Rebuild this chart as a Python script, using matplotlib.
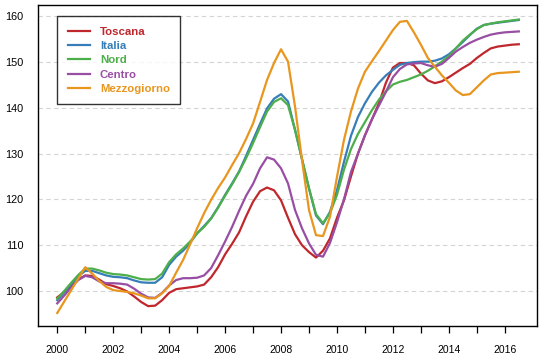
import numpy as np
import matplotlib
matplotlib.use("Agg")
import matplotlib.pyplot as plt

years = np.arange(2000.0, 2016.51, 0.25)

toscana = [98.6, 99.8, 101.0, 102.5, 103.4, 103.3, 102.5, 101.5,
           101.1, 100.6, 99.9, 98.8, 97.6, 96.7, 96.8, 98.0,
           99.6, 100.4, 100.6, 100.8, 101.0, 101.4, 103.0, 105.2,
           108.0, 110.3, 112.8, 116.3, 119.5, 121.8, 122.6, 122.0,
           119.8, 116.0, 112.4, 110.0, 108.5, 107.3, 108.8, 111.5,
           116.0, 119.8, 125.0, 130.0, 134.0, 137.5, 141.0, 145.5,
           148.8, 149.8, 149.8, 149.3, 147.5, 146.0, 145.4, 145.8,
           146.7, 147.7, 148.7, 149.6, 150.9, 152.0, 153.0, 153.4,
           153.6, 153.8, 153.9]

italia = [98.0, 99.7, 101.5, 103.2, 104.4, 104.4, 103.9, 103.4,
          103.1, 103.0, 102.8, 102.3, 101.9, 101.8, 101.8, 103.0,
          105.7, 107.5, 108.8, 110.5, 112.6, 114.2, 115.9, 118.3,
          121.0, 123.5, 126.1, 129.5, 133.0, 136.5, 139.9, 142.0,
          143.0, 141.4, 135.2, 128.8, 122.4, 116.5, 114.6, 117.3,
          122.0, 128.2, 133.9, 138.0, 141.0, 143.5, 145.5, 147.1,
          148.3, 149.4, 149.8, 150.0, 150.1, 150.1, 150.3, 150.8,
          151.7, 153.0, 154.4, 155.9, 157.3, 158.1, 158.4, 158.6,
          158.8, 159.0, 159.2]

nord = [98.3, 100.0, 101.8, 103.5, 104.9, 104.9, 104.5, 104.0,
        103.7, 103.6, 103.4, 103.0, 102.6, 102.5, 102.6, 103.8,
        106.3, 108.0, 109.3, 110.8, 112.6, 114.0, 115.8, 118.2,
        120.8, 123.3, 126.0, 129.0, 132.3, 135.8, 139.2, 141.3,
        142.1, 140.6, 135.2, 128.8, 122.4, 116.8, 114.8, 117.0,
        121.0, 126.5, 131.0, 134.3, 136.9, 139.5, 141.8, 143.6,
        145.1, 145.7, 146.1, 146.7, 147.3, 148.1, 149.1, 150.1,
        151.3, 153.0, 154.7, 156.0, 157.2, 158.1, 158.4, 158.7,
        158.9, 159.1, 159.3]

centro = [97.3, 99.0, 100.8, 102.4, 103.3, 103.0, 102.1, 101.7,
          101.7, 101.6, 101.4, 100.5, 99.4, 98.6, 98.5, 99.6,
          101.2, 102.4, 102.8, 102.8, 102.9, 103.4, 105.0, 107.8,
          110.8, 114.0, 117.5, 120.8, 123.4, 126.8, 129.2, 128.7,
          126.8, 123.5, 117.7, 113.7, 110.4, 107.9, 107.5, 110.5,
          115.0, 120.0, 126.0, 130.0, 134.0, 137.5, 140.5, 143.5,
          146.7, 148.5, 149.5, 149.7, 149.8, 149.3, 149.0, 149.6,
          150.9, 152.3, 153.3, 154.2, 154.9, 155.5, 156.0, 156.3,
          156.5, 156.6, 156.7]

mezzogiorno = [95.2, 97.7, 100.2, 102.7, 105.2, 103.8, 102.2, 100.9,
               100.2, 100.0, 99.8, 99.5, 99.0, 98.4, 98.4, 99.5,
               101.1, 104.0, 106.8, 110.2, 113.7, 117.0, 119.9, 122.5,
               124.8, 127.5, 130.1, 133.2, 136.6, 141.3, 146.1, 149.8,
               152.8, 150.1, 140.3, 128.6, 117.7, 112.2, 112.0, 116.2,
               124.9, 133.0, 139.2, 144.2, 147.9, 150.2, 152.4, 154.7,
               157.0, 158.8, 159.0, 156.5, 153.8, 150.9, 149.0, 147.1,
               145.5, 143.8, 142.8, 143.0, 144.5, 146.0, 147.3, 147.6,
               147.7, 147.8, 147.9]

series_names = ["Toscana", "Italia", "Nord", "Centro", "Mezzogiorno"]
series_vals = [toscana, italia, nord, centro, mezzogiorno]
colors = ["#C0272D", "#377EB8", "#4DAF4A", "#984EA3", "#E8961E"]

yticks = [100, 110, 120, 130, 140, 150, 160]
xticks_major = list(range(2000, 2017))

plt.rcParams['font.family'] = ['Liberation Sans', 'DejaVu Sans']

fig = plt.figure(figsize=(5.43, 3.58), dpi=100)
ax = fig.add_axes([0.0709, 0.0902, 0.9175, 0.8972])

for name, vals, c in zip(series_names, series_vals, colors):
    ax.plot(years, vals, color=c, lw=1.6, label=name, zorder=3)

ax.set_xlim(1999.33, 2017.14)
ax.set_ylim(92.42, 162.58)

ax.set_yticks(yticks)
ax.set_yticklabels([str(v) for v in yticks])
ax.set_xticks(xticks_major)
ax.set_xticklabels([str(y) if y % 2 == 0 else "" for y in xticks_major])

ax.grid(axis='y', color='#d4d4d4', linestyle=(0, (4, 3)), lw=0.8, zorder=1)
ax.tick_params(axis='y', length=0, pad=11, labelsize=7.8)
ax.tick_params(axis='x', length=5, width=0.9, direction='out', pad=9, labelsize=7.5)

for sp in ax.spines.values():
    sp.set_linewidth(1.0)
    sp.set_color('black')

leg = ax.legend(loc='upper left', bbox_to_anchor=(0.0377, 0.963),
                frameon=True, fancybox=False, edgecolor='black',
                prop={'weight': 'bold', 'size': 8.2},
                handlelength=1.95, handletextpad=0.9, borderpad=0.9,
                labelspacing=0.38, borderaxespad=0.0, labelcolor='linecolor')
leg.get_frame().set_linewidth(1.0)

fig.savefig("out.png", dpi=100)
